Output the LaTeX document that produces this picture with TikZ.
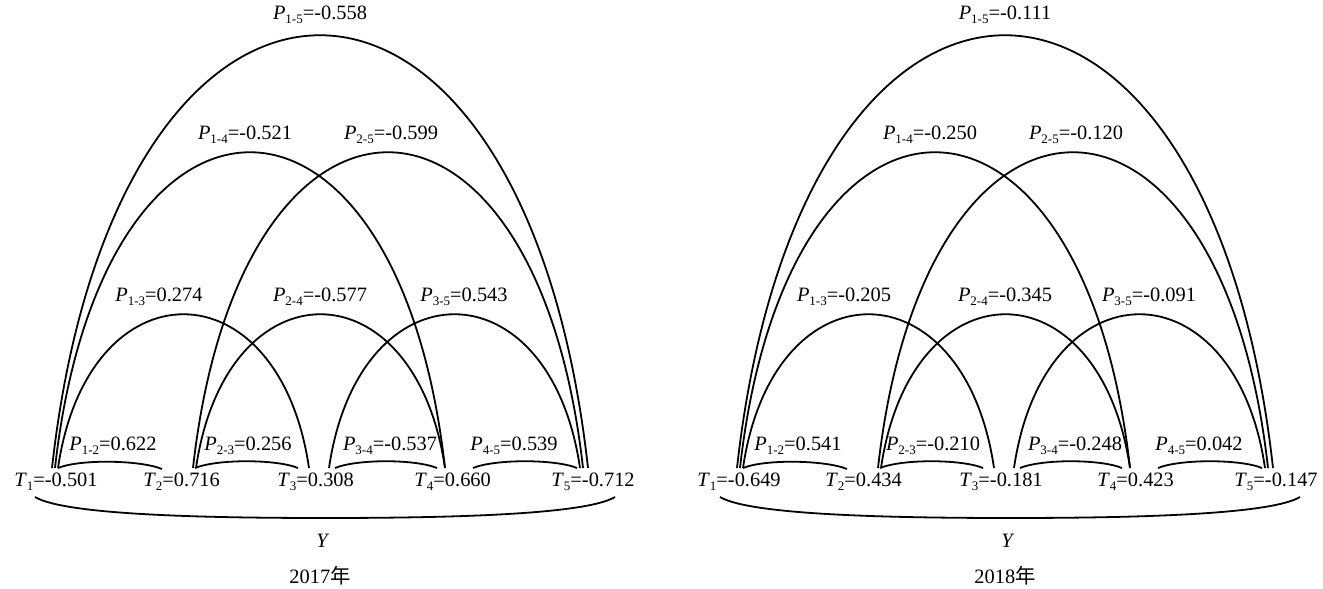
\documentclass[tikz,border=0pt]{standalone}
\usepackage{fontspec}
\setmainfont{Liberation Serif}
\newfontfamily\cjk{Noto Sans CJK SC}
\usepackage{tikz}
\usetikzlibrary{positioning}
\newcommand{\sbs}[1]{\raisebox{-0.45ex}{\fontsize{6.5}{7}\selectfont #1}}
\newcommand{\pv}[2]{\textit{P}\sbs{#1}=#2}
\newcommand{\tv}[2]{\textit{T}\sbs{#1}=#2}

\begin{document}
\begin{tikzpicture}[x=0.5pt, y=0.5pt, font=\fontsize{10.2}{12}\selectfont,
  arcline/.style={line width=0.9pt},
  lbl/.style={inner sep=1pt},
  tlbl/.style={inner sep=1pt, anchor=west}]
\useasboundingbox (0,0) rectangle (1323,589);
% ---- 2017 ----
\coordinate (A15s) at (52,121);  \coordinate (A15e) at (588,121);
\coordinate (A14s) at (55,121);  \coordinate (A14e) at (445,121);
\coordinate (A13s) at (58,121);  \coordinate (A13e) at (309,121);
\coordinate (A25s) at (193,121); \coordinate (A25e) at (583,121);
\coordinate (A24s) at (196,121); \coordinate (A24e) at (445,121);
\coordinate (A35s) at (329,121); \coordinate (A35e) at (580,121);
\coordinate (A12s) at (58,121);  \coordinate (A12e) at (162,120);
\coordinate (A23s) at (195,121); \coordinate (A23e) at (298,121);
\coordinate (A34s) at (335,121); \coordinate (A34e) at (437,121);
\coordinate (A45s) at (473,121); \coordinate (A45e) at (577,121);
\coordinate (AYs) at (35,92); \coordinate (AYm) at (325,71); \coordinate (AYe) at (615,92);
\draw[arcline] (A15s) .. controls +(64,577) and +(-64,577) .. (A15e);
\draw[arcline] (A14s) .. controls +(47,421) and +(-47,421) .. (A14e);
\draw[arcline] (A13s) .. controls +(30,205) and +(-30,205) .. (A13e);
\draw[arcline] (A25s) .. controls +(47,421) and +(-47,421) .. (A25e);
\draw[arcline] (A24s) .. controls +(30,205) and +(-30,205) .. (A24e);
\draw[arcline] (A35s) .. controls +(30,205) and +(-30,205) .. (A35e);
\draw[arcline] (A12s) .. controls +(22,9) and +(-22,9) .. (A12e);
\draw[arcline] (A23s) .. controls +(22,9) and +(-22,9) .. (A23e);
\draw[arcline] (A34s) .. controls +(22,9) and +(-22,9) .. (A34e);
\draw[arcline] (A45s) .. controls +(22,9) and +(-22,9) .. (A45e);
\draw[arcline] (AYs) .. controls +(30,-18) and +(-120,0) .. (AYm) .. controls +(120,0) and +(-30,-18) .. (AYe);
\node[lbl] (p15A) at (320,574) {\pv{1-5}{-0.558}};
\node[lbl] (p14A) at (245,454) {\pv{1-4}{-0.521}};
\node[lbl] (p25A) at (391,454) {\pv{2-5}{-0.599}};
\node[lbl] (p13A) at (159,292) {\pv{1-3}{0.274}};
\node[lbl] (p24A) at (320,292) {\pv{2-4}{-0.577}};
\node[lbl] (p35A) at (464,292) {\pv{3-5}{0.543}};
\node[lbl] (p12A) at (113,143) {\pv{1-2}{0.622}};
\node[lbl] (p23A) at (248,143) {\pv{2-3}{0.256}};
\node[lbl] (p34A) at (390,143) {\pv{3-4}{-0.537}};
\node[lbl] (p45A) at (514,143) {\pv{4-5}{0.539}};
\node[tlbl] (t1A) at (12,107) {\tv{1}{-0.501}};
\node[tlbl] (t2A) at (141,107) {\tv{2}{0.716}};
\node[tlbl] (t3A) at (275,107) {\tv{3}{0.308}};
\node[tlbl] (t4A) at (412,107) {\tv{4}{0.660}};
\node[tlbl] (t5A) at (549,107) {\tv{5}{-0.712}};
\node[lbl] (yA) at (323,48) {\textit{Y}};
\node[lbl] (yrA) at (320,13) {2017{\cjk 年}};
% ---- 2018 ----
\begin{scope}[xshift=342.5pt]
\coordinate (B15s) at (52,121);  \coordinate (B15e) at (588,121);
\coordinate (B14s) at (55,121);  \coordinate (B14e) at (445,121);
\coordinate (B13s) at (58,121);  \coordinate (B13e) at (309,121);
\coordinate (B25s) at (193,121); \coordinate (B25e) at (583,121);
\coordinate (B24s) at (196,121); \coordinate (B24e) at (445,121);
\coordinate (B35s) at (329,121); \coordinate (B35e) at (580,121);
\coordinate (B12s) at (58,121);  \coordinate (B12e) at (162,120);
\coordinate (B23s) at (195,121); \coordinate (B23e) at (298,121);
\coordinate (B34s) at (335,121); \coordinate (B34e) at (437,121);
\coordinate (B45s) at (473,121); \coordinate (B45e) at (577,121);
\coordinate (BYs) at (35,92); \coordinate (BYm) at (325,71); \coordinate (BYe) at (615,92);
\draw[arcline] (B15s) .. controls +(64,577) and +(-64,577) .. (B15e);
\draw[arcline] (B14s) .. controls +(47,421) and +(-47,421) .. (B14e);
\draw[arcline] (B13s) .. controls +(30,205) and +(-30,205) .. (B13e);
\draw[arcline] (B25s) .. controls +(47,421) and +(-47,421) .. (B25e);
\draw[arcline] (B24s) .. controls +(30,205) and +(-30,205) .. (B24e);
\draw[arcline] (B35s) .. controls +(30,205) and +(-30,205) .. (B35e);
\draw[arcline] (B12s) .. controls +(22,9) and +(-22,9) .. (B12e);
\draw[arcline] (B23s) .. controls +(22,9) and +(-22,9) .. (B23e);
\draw[arcline] (B34s) .. controls +(22,9) and +(-22,9) .. (B34e);
\draw[arcline] (B45s) .. controls +(22,9) and +(-22,9) .. (B45e);
\draw[arcline] (BYs) .. controls +(30,-18) and +(-120,0) .. (BYm) .. controls +(120,0) and +(-30,-18) .. (BYe);
\node[lbl] (p15B) at (320,574) {\pv{1-5}{-0.111}};
\node[lbl] (p14B) at (245,454) {\pv{1-4}{-0.250}};
\node[lbl] (p25B) at (391,454) {\pv{2-5}{-0.120}};
\node[lbl] (p13B) at (159,292) {\pv{1-3}{-0.205}};
\node[lbl] (p24B) at (320,292) {\pv{2-4}{-0.345}};
\node[lbl] (p35B) at (464,292) {\pv{3-5}{-0.091}};
\node[lbl] (p12B) at (113,143) {\pv{1-2}{0.541}};
\node[lbl] (p23B) at (248,143) {\pv{2-3}{-0.210}};
\node[lbl] (p34B) at (390,143) {\pv{3-4}{-0.248}};
\node[lbl] (p45B) at (514,143) {\pv{4-5}{0.042}};
\node[tlbl] (t1B) at (10,107) {\tv{1}{-0.649}};
\node[tlbl] (t2B) at (138,107) {\tv{2}{0.434}};
\node[tlbl] (t3B) at (272,107) {\tv{3}{-0.181}};
\node[tlbl] (t4B) at (410,107) {\tv{4}{0.423}};
\node[tlbl] (t5B) at (547,107) {\tv{5}{-0.147}};
\node[lbl] (yB) at (323,48) {\textit{Y}};
\node[lbl] (yrB) at (320,13) {2018{\cjk 年}};
\end{scope}
\end{tikzpicture}
\end{document}
